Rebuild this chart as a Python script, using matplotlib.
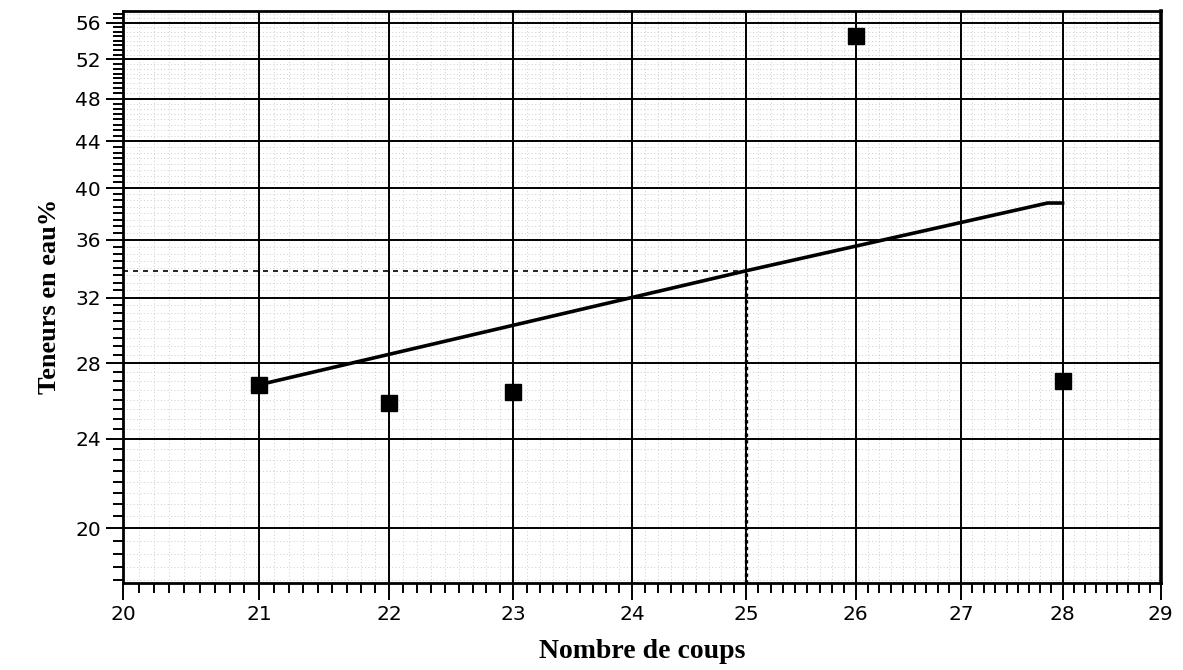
import matplotlib.pyplot as plt
import numpy as np
from matplotlib.ticker import FixedLocator, NullFormatter

# Points mesurés
coups = [21, 22, 23, 26, 28]
teneurs = [26.8, 25.8, 26.4, 54.5, 27.0]

# Droite d'ajustement
droite_x = [21, 25, 27.85, 28]
droite_y = [26.8, 33.8, 38.8, 38.8]

# Lecture à 25 coups
x_lecture = 25
w_lecture = 33.8

x_ticks = [20, 21, 22, 23, 24, 25, 26, 27, 28, 29]
y_ticks = [20, 24, 28, 32, 36, 40, 44, 48, 52, 56]

fig = plt.figure(figsize=(11.83, 6.70), dpi=100)
ax = fig.add_axes([0.104, 0.130, 0.877, 0.854])

ax.set_xscale('log')
ax.set_yscale('log')
ax.set_xlim(20, 29)
ax.set_ylim(17.9, 57.4)

# Quadrillage mineur gris (papier millimétré)
x_minor = [a + k / 9 for a in range(20, 29) for k in range(1, 9)]
y_minor = list(np.arange(18, 57.5, 0.5))
ax.xaxis.set_minor_locator(FixedLocator(x_minor))
ax.yaxis.set_minor_locator(FixedLocator(y_minor))
ax.xaxis.set_minor_formatter(NullFormatter())
ax.yaxis.set_minor_formatter(NullFormatter())
ax.grid(which='minor', color='#cdcdcd', linestyle=(0, (1, 2.5)), linewidth=0.7)

# Quadrillage principal noir par-dessus
for v in x_ticks[1:-1]:
    ax.axvline(v, color='black', linewidth=1.4, zorder=2)
for v in y_ticks:
    ax.axhline(v, color='black', linewidth=1.4, zorder=2)

ax.set_xticks(x_ticks, [str(v) for v in x_ticks])
ax.set_yticks(y_ticks, [str(v) for v in y_ticks])
ax.tick_params(which='major', direction='out', length=12, width=1.4,
               labelsize=14.5, pad=4)
ax.tick_params(which='minor', direction='out', length=7, width=1.4)
for lab in ax.get_xticklabels() + ax.get_yticklabels():
    lab.set_family('DejaVu Sans')

for s in ax.spines.values():
    s.set_linewidth(2)
    s.set_zorder(6)
ax.spines['right'].set_linewidth(2.6)

# Lignes de lecture
ax.plot([20, x_lecture], [w_lecture, w_lecture], color='black',
        linestyle=(0, (3, 3)), linewidth=1.2, zorder=3)
ax.plot([x_lecture, x_lecture], [17.9, w_lecture], color='black',
        linestyle=(0, (1, 1)), linewidth=2.4, zorder=3)

ax.plot(droite_x, droite_y, color='black', linewidth=2.6, zorder=4)
ax.plot(coups, teneurs, linestyle='none', marker='s', markersize=11,
        color='black', zorder=5, clip_on=False)

ax.set_xlabel('Nombre de coups', family='Liberation Serif', fontweight='bold',
              fontsize=20, labelpad=11)
ax.set_ylabel('Teneurs en eau%', family='Liberation Serif', fontweight='bold',
              fontsize=19, labelpad=10)

fig.savefig('out.png', dpi=100)
